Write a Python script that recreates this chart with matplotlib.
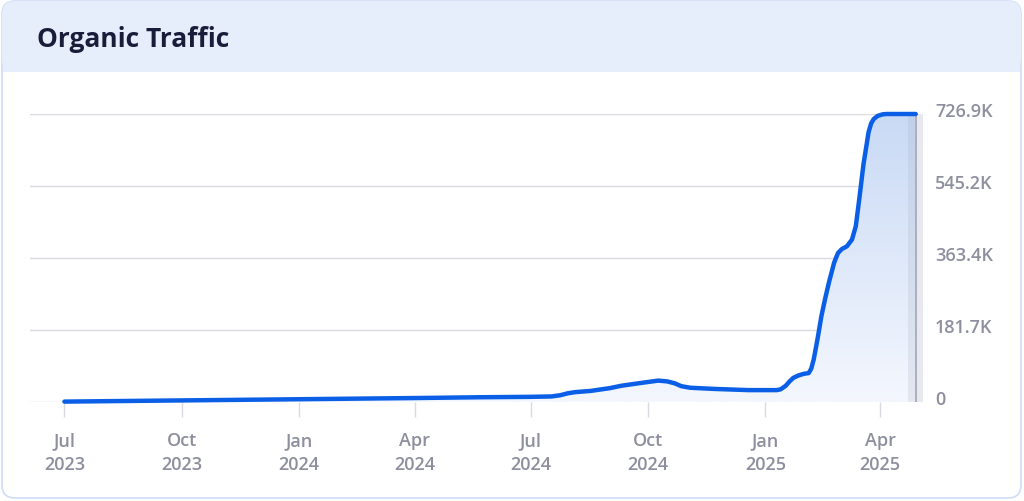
import numpy as np
import pandas as pd
import matplotlib
matplotlib.use('Agg')
import matplotlib.pyplot as plt
import matplotlib.dates as mdates
import matplotlib.transforms as mtransforms
from matplotlib.patches import FancyBboxPatch, Rectangle

# organic traffic readings (date, visits)
dates = [
    '2023-07-01', '2023-10-01', '2024-01-01', '2024-04-01', '2024-05-22',
    '2024-06-30', '2024-07-17', '2024-07-24', '2024-07-30', '2024-08-05',
    '2024-08-17', '2024-09-01', '2024-09-10', '2024-09-23', '2024-10-02',
    '2024-10-09', '2024-10-16', '2024-10-22', '2024-10-27', '2024-11-03',
    '2024-11-22', '2024-12-19', '2025-01-10', '2025-01-13', '2025-01-17',
    '2025-01-20', '2025-01-23', '2025-01-27', '2025-01-31', '2025-02-04',
    '2025-02-06', '2025-02-08', '2025-02-11', '2025-02-14', '2025-02-17',
    '2025-02-20', '2025-02-24', '2025-02-27', '2025-03-02', '2025-03-06',
    '2025-03-10', '2025-03-13', '2025-03-16', '2025-03-19', '2025-03-23',
    '2025-03-25', '2025-03-27', '2025-03-30', '2025-04-03', '2025-04-06',
    '2025-04-29',
]
visits = [
    1000, 4000, 7000, 10000, 12000,
    13000, 14000, 17000, 22000, 25000,
    28000, 35000, 41000, 47000, 51000,
    54000, 52000, 47000, 40000, 36000,
    33000, 30000, 30000, 32000, 41000,
    52000, 61000, 67000, 71000, 73000,
    84000, 108000, 160000, 217000, 262000,
    303000, 352000, 376000, 386000, 393000,
    410000, 444000, 520000, 600000, 681000,
    703000, 714000, 722000, 726000, 726900,
    726900,
]

y_ticks = [0, 181725, 363450, 545175, 726900]
y_labels = ['0', '181.7K', '363.4K', '545.2K', '726.9K']
x_ticks = ['2023-07-01', '2023-10-01', '2024-01-01', '2024-04-01',
           '2024-07-01', '2024-10-01', '2025-01-01', '2025-04-01']
x_labels = ['Jul\n2023', 'Oct\n2023', 'Jan\n2024', 'Apr\n2024',
            'Jul\n2024', 'Oct\n2024', 'Jan\n2025', 'Apr\n2025']

W, H = 1024, 502
fig = plt.figure(figsize=(W / 100, H / 100), dpi=100)
plt.rcParams['font.family'] = ['Open Sans', 'DejaVu Sans']

# card background + header band
bg = fig.add_axes([0, 0, 1, 1])
bg.set_xlim(0, W)
bg.set_ylim(H, 0)
bg.axis('off')
card = FancyBboxPatch((2, 2), W - 5, H - 5, boxstyle='round,pad=0,rounding_size=13',
                      facecolor='white', edgecolor='#cfddf7', linewidth=1.2)
bg.add_patch(card)
header = FancyBboxPatch((2, 2), W - 5, 71, boxstyle='round,pad=0,rounding_size=13',
                        facecolor='#e6eefc', edgecolor='none')
bg.add_patch(header)
bg.add_patch(Rectangle((2.6, 40), W - 6.2, 33, facecolor='#e6eefc', edgecolor='none'))
bg.text(37, 47, 'Organic Traffic', fontsize=19, fontweight='bold',
        color='#1a1d3a', va='baseline', ha='left')

# chart axes: x 30..917 px, y 115..403 px
ax = fig.add_axes([30 / W, (H - 403) / H, (917 - 30) / W, 288 / H])
ax.set_facecolor('none')
x = pd.to_datetime(dates)
xn = mdates.date2num(x)
ax.set_xlim(mdates.date2num(pd.Timestamp('2023-06-04')),
            mdates.date2num(pd.Timestamp('2025-04-30')))
ax.set_ylim(0, 726900)

# gradient fill under the line
grad = np.linspace(0, 1, 256).reshape(-1, 1)
cmap = matplotlib.colors.LinearSegmentedColormap.from_list('g', ['#f4f7fe', '#c9daf5'])
im = ax.imshow(grad, cmap=cmap, aspect='auto', origin='lower',
               extent=[xn[0], xn[-1], 0, 726900], zorder=1)
poly = ax.fill_between(xn, visits, 0, facecolor='none', edgecolor='none')
clip = poly.get_paths()[0]
im.set_clip_path(clip, transform=ax.transData)

# grey highlight band at the latest period
ax.axvspan(mdates.date2num(pd.Timestamp('2025-04-23')), xn[-1],
           color='#9aa4b8', alpha=0.18, lw=0, zorder=2)
ax.axvspan(xn[-1], xn[-1] + 5.5, ymin=0, ymax=1,
           color='#e8e9ee', lw=0, zorder=0, clip_on=False)
ax.axvline(xn[-1], color='#a8acb8', lw=1.3, zorder=2)

for v in y_ticks:
    ax.axhline(v, color='#d9dae2', lw=1, zorder=0.5)

ax.plot(xn, visits, color='#0a5fe6', lw=3.2, solid_joinstyle='round',
        solid_capstyle='round', zorder=3, clip_on=False)

for s in ax.spines.values():
    s.set_visible(False)

ax.set_xticks(mdates.date2num(pd.to_datetime(x_ticks)))
ax.set_xticklabels(x_labels, linespacing=1.4, fontweight='semibold')
ax.tick_params(axis='x', length=11, width=1, color='#d9dae2', pad=10,
               labelsize=13, labelcolor='#8d8e9e')

ax.yaxis.tick_right()
ax.set_yticks(y_ticks)
ax.set_yticklabels(y_labels, fontweight='semibold')
ax.tick_params(axis='y', length=0, pad=13, labelsize=13, labelcolor='#8d8e9e')
shift = mtransforms.ScaledTranslation(0, -2 / 100, fig.dpi_scale_trans)
for lbl in ax.get_yticklabels():
    lbl.set_verticalalignment('baseline')
    lbl.set_transform(lbl.get_transform() + shift)

fig.savefig('out.png', dpi=100)
